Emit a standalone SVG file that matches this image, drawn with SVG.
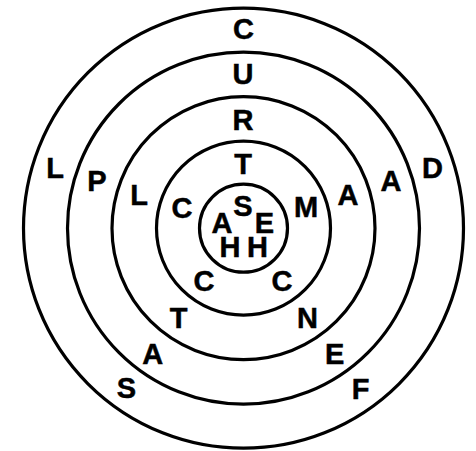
<svg xmlns="http://www.w3.org/2000/svg" width="476" height="451" viewBox="0 0 476 451">
<style>
.ring{fill:none;stroke:#000;stroke-width:3.2}
.t{font-family:"Liberation Sans",Arial,sans-serif;font-weight:bold;font-size:29px;text-anchor:middle;fill:#000;stroke:#000;stroke-width:0.5}
</style>
<rect width="476" height="451" fill="#fff"/>
<g id="rings">
<circle class="ring" cx="243.5" cy="228.2" r="220"/>
<circle class="ring" cx="243.5" cy="228.2" r="176"/>
<circle class="ring" cx="243.5" cy="228.2" r="131.5"/>
<circle class="ring" cx="243.5" cy="228.2" r="87"/>
<circle class="ring" cx="243.5" cy="228.2" r="44"/>
</g>
<g id="letters" class="t">
<text x="243.5" y="38.5">C</text>
<text x="243" y="84">U</text>
<text x="243" y="129.5">R</text>
<text x="243" y="173.5">T</text>
<text x="243" y="215.5">S</text>
<text x="222" y="232.5">A</text>
<text x="264.5" y="232.5">E</text>
<text x="230" y="257">H</text>
<text x="257.5" y="257">H</text>
<text x="182" y="217.5">C</text>
<text x="306" y="217">M</text>
<text x="204" y="291">C</text>
<text x="282" y="291">C</text>
<text x="139" y="204.5">L</text>
<text x="348" y="204.5">A</text>
<text x="178.5" y="327.5">T</text>
<text x="307.5" y="327.5">N</text>
<text x="97" y="190.5">P</text>
<text x="391" y="191">A</text>
<text x="152.7" y="364">A</text>
<text x="334.7" y="364">E</text>
<text x="55" y="177.5">L</text>
<text x="432.5" y="178">D</text>
<text x="126.5" y="398">S</text>
<text x="360.5" y="398.5">F</text>
</g>
</svg>
